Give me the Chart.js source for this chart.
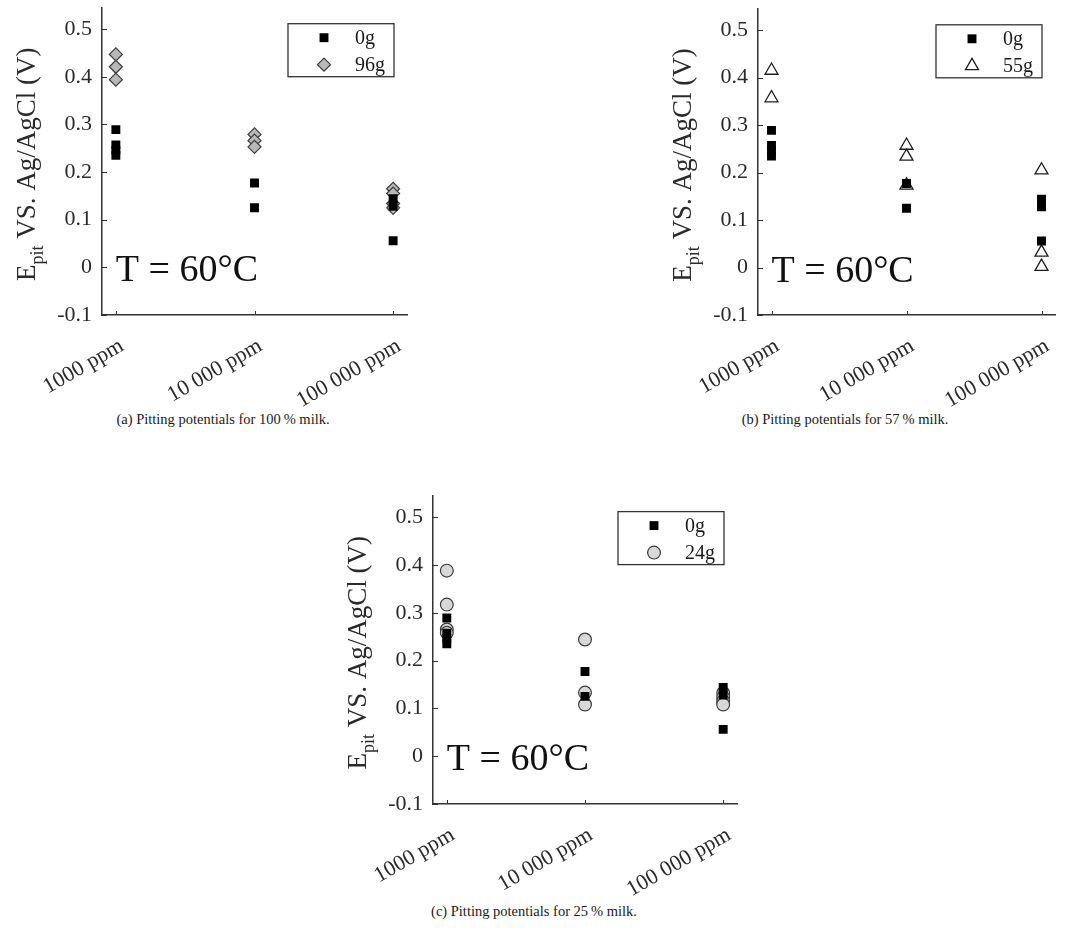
<!DOCTYPE html>
<html>
<head>
<meta charset="utf-8">
<title>Pitting potentials</title>
<script src="https://cdn.jsdelivr.net/npm/chart.js@4.4.1/dist/chart.umd.min.js"></script>
<style>
  body { margin: 0; background: #fff; width: 1068px; height: 946px; position: relative; overflow: hidden; }
  .panel { position: absolute; }
  .caption { position: absolute; font-family: "Liberation Serif", serif; font-size: 14.5px; color: #1a1a1a; white-space: nowrap; transform: translateX(-50%); line-height: 1; }
</style>
</head>
<body>
<div class="panel" style="left:0px;top:0px"><canvas id="chartA" width="430" height="410"></canvas></div>
<div class="panel" style="left:656px;top:0px"><canvas id="chartB" width="412" height="410"></canvas></div>
<div class="panel" style="left:331px;top:488px"><canvas id="chartC" width="426" height="411"></canvas></div>
<div class="caption" style="left:223px;top:412px">(a) Pitting potentials for 100&#8201;% milk.</div>
<div class="caption" style="left:845px;top:412px">(b) Pitting potentials for 57&#8201;% milk.</div>
<div class="caption" style="left:534px;top:904px">(c) Pitting potentials for 25&#8201;% milk.</div>
<script>
// chloride concentration groups on the x axis
const categories = ['1000 ppm', '10 000 ppm', '100 000 ppm'];
const yTicks = [-0.1, 0, 0.1, 0.2, 0.3, 0.4, 0.5];

// pitting potentials (V) per concentration group
const noMilk = [[0.289, 0.257, 0.246, 0.235], [0.177, 0.125], [0.144, 0.128, 0.056]];
const milk96 = [[0.447, 0.421, 0.394], [0.279, 0.266, 0.253], [0.165, 0.155, 0.134, 0.125]];
const milk55 = [[0.415, 0.357], [0.257, 0.234, 0.173], [0.205, 0.032, 0.002]];
const milk24 = [[0.388, 0.317, 0.265, 0.258], [0.244, 0.133, 0.108], [0.132, 0.123, 0.115, 0.108]];

const SERIF = '"Liberation Serif", "Times New Roman", serif';
Chart.defaults.font.family = SERIF;

const squareMark = { pointStyle: 'rect', radius: 6.3, fill: '#000', stroke: '#000', width: 0 };
const diamondMark = { pointStyle: 'rectRot', radius: 6.5, fill: '#b8b8b8', stroke: '#3c3c3c', width: 1.2 };
const triangleMark = { pointStyle: 'triangle', radius: 7.5, fill: '#fff', stroke: '#1e1e1e', width: 1.3 };
const circleMark = { pointStyle: 'circle', radius: 6.4, fill: '#d8d8d8', stroke: '#3c3c3c', width: 1.2 };

const toPoints = groups => groups.flatMap((vals, i) => vals.map(v => ({ x: i, y: v })));

function drawMark(ctx, m, x, y) {
  ctx.fillStyle = m.fill;
  ctx.strokeStyle = m.stroke;
  ctx.lineWidth = m.width;
  Chart.helpers.drawPoint(ctx, { pointStyle: m.pointStyle, radius: m.radius, rotation: 0, borderWidth: m.width }, x, y);
}

// inward ticks, y title with subscript, temperature note and boxed legend
const decorations = {
  id: 'decorations',
  afterDraw(chart, args, opts) {
    const { ctx, chartArea: a, scales: { x, y } } = chart;
    ctx.save();

    ctx.strokeStyle = '#333';
    ctx.lineWidth = 1;
    yTicks.forEach(v => {
      const py = Math.round(y.getPixelForValue(v)) + 0.5;
      ctx.beginPath(); ctx.moveTo(a.left, py); ctx.lineTo(a.left + 5, py); ctx.stroke();
    });
    categories.forEach((c, i) => {
      const px = Math.round(x.getPixelForValue(i)) + 0.5;
      ctx.beginPath(); ctx.moveTo(px, a.bottom); ctx.lineTo(px, a.bottom - 4); ctx.stroke();
    });

    // T = 60°C
    ctx.fillStyle = '#111';
    ctx.font = '38px ' + SERIF;
    ctx.textAlign = 'left';
    ctx.textBaseline = 'alphabetic';
    ctx.fillText('T = 60°C', x.getPixelForValue(0), y.getPixelForValue(0) + 14);

    // E_pit VS. Ag/AgCl (V)
    ctx.save();
    ctx.translate(a.left - 67, (a.top + a.bottom) / 2 + 3);
    ctx.rotate(-Math.PI / 2);
    ctx.fillStyle = '#2a2a2a';
    const big = '27px ' + SERIF, small = '18px ' + SERIF;
    ctx.font = big; const wE = ctx.measureText('E').width;
    const rest = ' VS. Ag/AgCl (V)'; const wRest = ctx.measureText(rest).width;
    ctx.font = small; const wSub = ctx.measureText('pit').width;
    let sx = -(wE + wSub + wRest) / 2;
    ctx.font = big; ctx.fillText('E', sx, 0);
    ctx.font = small; ctx.fillText('pit', sx + wE, 8);
    ctx.font = big; ctx.fillText(rest, sx + wE + wSub, 0);
    ctx.restore();

    // legend
    const bw = 106, bh = 53;
    const bx = a.right - 13 - bw, by = a.top + 16;
    ctx.fillStyle = '#fff';
    ctx.fillRect(bx, by, bw, bh);
    ctx.strokeStyle = '#333';
    ctx.lineWidth = 1.3;
    ctx.strokeRect(bx, by, bw, bh);
    ctx.font = '20px ' + SERIF;
    ctx.textBaseline = 'middle';
    opts.entries.forEach((e, i) => {
      const ry = by + 14 + i * 27;
      drawMark(ctx, e.mark, bx + 36, ry);
      ctx.fillStyle = '#1a1a1a';
      ctx.fillText(e.label, bx + 67, ry + 1);
    });
    ctx.restore();
  }
};

function scatterSet(label, groups, m) {
  return {
    label,
    data: toPoints(groups),
    showLine: false,
    pointStyle: m.pointStyle,
    pointRadius: m.radius,
    pointHoverRadius: m.radius,
    pointBackgroundColor: m.fill,
    pointBorderColor: m.stroke,
    pointBorderWidth: m.width
  };
}

function buildChart(id, padRight, milkLabel, milkValues, milkMark) {
  return new Chart(document.getElementById(id), {
    type: 'scatter',
    data: {
      datasets: [
        scatterSet('0g', noMilk, squareMark),
        scatterSet(milkLabel, milkValues, milkMark)
      ]
    },
    options: {
      responsive: false,
      animation: false,
      devicePixelRatio: 1,
      layout: { padding: { top: 5, right: padRight, left: 0, bottom: 0 } },
      plugins: {
        legend: { display: false },
        tooltip: { enabled: false },
        decorations: {
          entries: [
            { label: '0g', mark: squareMark },
            { label: milkLabel, mark: milkMark }
          ]
        }
      },
      scales: {
        x: {
          type: 'linear',
          min: -0.1,
          max: 2.1,
          grid: { display: false, drawTicks: false },
          border: { display: true, color: '#333', width: 1.5 },
          afterBuildTicks: s => { s.ticks = categories.map((c, i) => ({ value: i })); },
          afterFit: s => { s.height = 95; s.paddingLeft = 0; s.paddingRight = 0; },
          ticks: {
            autoSkip: false,
            minRotation: 30,
            maxRotation: 30,
            padding: 18,
            labelOffset: 6,
            color: '#2a2a2a',
            font: { size: 22 },
            callback: v => categories[v]
          }
        },
        y: {
          min: -0.1,
          max: 0.545,
          grid: { display: false, drawTicks: false },
          border: { display: true, color: '#333', width: 1.5 },
          afterBuildTicks: s => { s.ticks = yTicks.map(v => ({ value: v })); },
          afterFit: s => { s.width = 102; s.paddingTop = 0; s.paddingBottom = 0; },
          ticks: {
            padding: 10,
            color: '#2a2a2a',
            font: { size: 22 },
            callback: v => String(Math.round(v * 10) / 10)
          }
        }
      }
    },
    plugins: [decorations]
  });
}

buildChart('chartA', 23, '96g', milk96, diamondMark);
buildChart('chartB', 13, '55g', milk55, triangleMark);
buildChart('chartC', 20, '24g', milk24, circleMark);
</script>
</body>
</html>
